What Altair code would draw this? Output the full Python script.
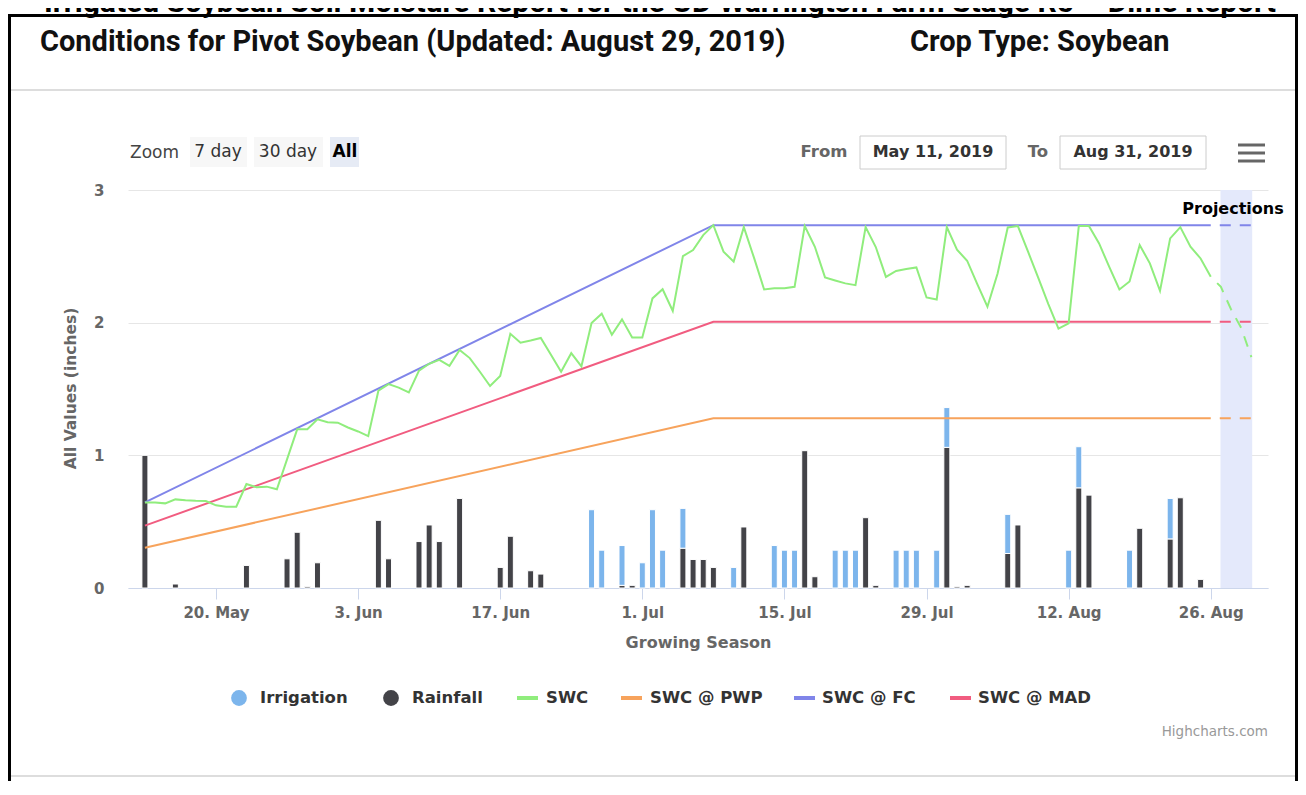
import altair as alt
import pandas as pd

# ------------------------------------------------------------------ data
swc_start = "2019-05-13"
swc_values = [0.645, 0.645, 0.638, 0.668, 0.662, 0.658, 0.656, 0.623, 0.613, 0.613,
              0.784, 0.759, 0.764, 0.744, 0.97, 1.196, 1.196, 1.271, 1.25, 1.246,
              1.21, 1.18, 1.145, 1.487, 1.537, 1.51, 1.475, 1.638, 1.69, 1.72,
              1.675, 1.794, 1.733, 1.63, 1.522, 1.598, 1.916, 1.849, 1.865, 1.885,
              1.758, 1.63, 1.77, 1.67, 1.997, 2.068, 1.909, 2.025, 1.888, 1.888,
              2.183, 2.252, 2.088, 2.502, 2.547, 2.66, 2.735, 2.535, 2.46, 2.72,
              2.49, 2.25, 2.26, 2.26, 2.27, 2.728, 2.572, 2.341, 2.318, 2.296,
              2.283, 2.72, 2.57, 2.345, 2.39, 2.405, 2.416, 2.19, 2.175, 2.72,
              2.55, 2.467, 2.29, 2.12, 2.37, 2.718, 2.728, 2.535, 2.34, 2.14,
              1.955, 1.995, 2.728, 2.728, 2.597, 2.42, 2.25, 2.31, 2.585, 2.447,
              2.24, 2.635, 2.72, 2.572, 2.484, 2.346]

proj_dates = ["2019-08-26", "2019-08-27", "2019-08-28", "2019-08-29", "2019-08-30"]
proj_swc = [2.346, 2.27, 2.10, 1.96, 1.74]

threshold_dates = ["2019-05-13", "2019-07-08", "2019-08-26"]
fc_values = [0.645, 2.735, 2.735]
mad_values = [0.47, 2.007, 2.007]
pwp_values = [0.304, 1.279, 1.279]
threshold_proj_dates = ["2019-08-26", "2019-08-30"]

rain_dates = ["2019-05-13", "2019-05-16", "2019-05-23", "2019-05-27", "2019-05-28",
              "2019-05-29", "2019-05-30", "2019-06-05", "2019-06-06", "2019-06-09",
              "2019-06-10", "2019-06-11", "2019-06-13", "2019-06-17", "2019-06-18",
              "2019-06-20", "2019-06-21", "2019-06-29", "2019-06-30", "2019-07-05",
              "2019-07-06", "2019-07-07", "2019-07-08", "2019-07-11", "2019-07-17",
              "2019-07-18", "2019-07-23", "2019-07-24", "2019-07-31", "2019-08-01",
              "2019-08-02", "2019-08-06", "2019-08-07", "2019-08-13", "2019-08-14",
              "2019-08-19", "2019-08-22", "2019-08-23", "2019-08-25"]
rain_values = [1.00, 0.03, 0.17, 0.22, 0.42,
               0.01, 0.19, 0.51, 0.22, 0.35,
               0.475, 0.35, 0.675, 0.155, 0.39,
               0.13, 0.105, 0.02, 0.02, 0.30,
               0.215, 0.215, 0.155, 0.46, 1.035,
               0.085, 0.53, 0.02, 1.06, 0.01,
               0.02, 0.26, 0.475, 0.755, 0.70,
               0.45, 0.37, 0.68, 0.065]

irr_dates = ["2019-06-26", "2019-06-27", "2019-06-29", "2019-07-01", "2019-07-02",
             "2019-07-03", "2019-07-05", "2019-07-10", "2019-07-14", "2019-07-15",
             "2019-07-16", "2019-07-20", "2019-07-21", "2019-07-22", "2019-07-26",
             "2019-07-27", "2019-07-28", "2019-07-30", "2019-07-31", "2019-08-06",
             "2019-08-12", "2019-08-13", "2019-08-18", "2019-08-22"]
irr_values = [0.59, 0.285, 0.30, 0.19, 0.59,
              0.285, 0.30, 0.155, 0.32, 0.285,
              0.285, 0.285, 0.285, 0.285, 0.285,
              0.285, 0.285, 0.285, 0.30, 0.295,
              0.285, 0.31, 0.285, 0.305]

band_start = "2019-08-26T23:00:00"
band_end = "2019-08-30T02:00:00"

series_names = ["Irrigation", "Rainfall", "SWC", "SWC @ PWP", "SWC @ FC", "SWC @ MAD"]
series_colors = ["#7cb5ec", "#434348", "#90ed7d", "#f7a35c", "#8085e9", "#f15c80"]


# ------------------------------------------------------------------ tables
def local(ds):
    # full date-time strings are read in local time, like the axis ticks and domain
    return [d + "T00:00:00" for d in ds]


swc_dates = pd.date_range(swc_start, periods=len(swc_values), freq="D").strftime("%Y-%m-%d").tolist()

bars = pd.concat([
    pd.DataFrame({"date": local(rain_dates), "value": rain_values, "kind": "Rainfall", "ord": 0}),
    pd.DataFrame({"date": local(irr_dates), "value": irr_values, "kind": "Irrigation", "ord": 1}),
], ignore_index=True)

lines = pd.concat([
    pd.DataFrame({"date": local(threshold_dates), "value": pwp_values, "kind": "SWC @ PWP"}),
    pd.DataFrame({"date": local(threshold_dates), "value": mad_values, "kind": "SWC @ MAD"}),
    pd.DataFrame({"date": local(threshold_dates), "value": fc_values, "kind": "SWC @ FC"}),
    pd.DataFrame({"date": local(swc_dates), "value": swc_values, "kind": "SWC"}),
], ignore_index=True)

proj = pd.concat([
    pd.DataFrame({"date": local(threshold_proj_dates), "value": [pwp_values[-1]] * 2, "kind": "SWC @ PWP"}),
    pd.DataFrame({"date": local(threshold_proj_dates), "value": [mad_values[-1]] * 2, "kind": "SWC @ MAD"}),
    pd.DataFrame({"date": local(threshold_proj_dates), "value": [fc_values[-1]] * 2, "kind": "SWC @ FC"}),
    pd.DataFrame({"date": local(proj_dates), "value": proj_swc, "kind": "SWC"}),
], ignore_index=True)

band = pd.DataFrame({"start": [band_start], "end": [band_end]})

# ------------------------------------------------------------------ layout
FONT = "DejaVu Sans"
HEAD = "Roboto"
X0, Y0 = 128, 190          # page position of plot origin
W, H = 1140, 398

x_scale = alt.Scale(domain=[alt.DateTime(year=2019, month=5, date=11, hours=8),
                            alt.DateTime(year=2019, month=8, date=31, hours=15, minutes=20)],
                    padding=0, nice=False)
tick_days = [(5, 20), (6, 3), (6, 17), (7, 1), (7, 15), (7, 29), (8, 12), (8, 26)]
x_axis = alt.Axis(values=[alt.DateTime(year=2019, month=m, date=d) for m, d in tick_days],
                  format="%-d. %b", title="Growing Season", grid=False,
                  domainColor="#ccd6eb", tickColor="#ccd6eb", tickSize=11, labelPadding=6,
                  labelFlush=False, labelFont=FONT, labelFontSize=15, labelFontWeight="bold",
                  labelColor="#666666", titleFont=FONT, titleFontSize=16, titleFontWeight="bold",
                  titleColor="#666666", titlePadding=14)
y_scale = alt.Scale(domain=[0, 3], nice=False)
y_axis = alt.Axis(values=[0, 1, 2, 3], format="d", grid=True, gridColor="#e6e6e6",
                  domain=False, ticks=False, labelPadding=24, labelFont=FONT,
                  labelFontSize=15, labelFontWeight="bold", labelColor="#666666",
                  title="All Values (inches)", titleFont=FONT, titleFontSize=15.5,
                  titleFontWeight="bold", titleColor="#666666", titleX=-58, titleY=198,
                  titleAngle=-90, titleAlign="center", titleBaseline="middle")

X = alt.X("date:T", scale=x_scale, axis=x_axis)
Y = alt.Y("value:Q", scale=y_scale, axis=y_axis)
C = alt.Color("kind:N", scale=alt.Scale(domain=series_names, range=series_colors), legend=None)

band_layer = alt.Chart(band).mark_rect(color="#e4e9fb").encode(
    x=alt.X("start:T", scale=x_scale, axis=x_axis), x2="end:T",
    y=alt.value(0), y2=alt.value(H))

bar_layer = alt.Chart(bars).mark_bar(size=6, stroke="white", strokeWidth=1).encode(
    x=X, y=Y, color=C, order=alt.Order("ord:Q"))

line_layer = alt.Chart(lines).mark_line(strokeWidth=2).encode(
    x=X, y=Y, color=C, detail="kind:N")

proj_layer = alt.Chart(proj).mark_line(strokeWidth=2, strokeDash=[11, 9], strokeDashOffset=11).encode(
    x=X, y=Y, color=C, detail="kind:N")

one = pd.DataFrame({"k": [0]})


def txt(s, x, y, size=16, weight="normal", color="#333333", align="left", font=FONT,
        baseline="middle"):
    return alt.Chart(one).mark_text(text=s, fontSize=size, fontWeight=weight, color=color,
                                    align=align, baseline=baseline, font=font).encode(
        x=alt.value(x - X0), y=alt.value(y - Y0))


def hline(x1, x2, y, color, w):
    return alt.Chart(one).mark_rule(color=color, strokeWidth=w).encode(
        x=alt.value(x1 - X0), x2=alt.value(x2 - X0), y=alt.value(y - Y0))


def vline(x, y1, y2, color, w):
    return alt.Chart(one).mark_rule(color=color, strokeWidth=w).encode(
        x=alt.value(x - X0), y=alt.value(y1 - Y0), y2=alt.value(y2 - Y0))


def box(x1, x2, y1, y2, fill, stroke=None):
    kw = dict(fill=fill)
    if stroke:
        kw.update(stroke=stroke, strokeWidth=1)
    return alt.Chart(one).mark_rect(**kw).encode(
        x=alt.value(x1 - X0), x2=alt.value(x2 - X0), y=alt.value(y1 - Y0), y2=alt.value(y2 - Y0))


def dot(x, y, color):
    return alt.Chart(one).mark_point(filled=True, shape="circle", size=250, color=color, opacity=1).encode(
        x=alt.value(x - X0), y=alt.value(y - Y0))


deco = [
    # page frame
    txt("Irrigated Soybean Soil Moisture Report for the UD Warrington Farm Stage R5 \u2013 Dime Report",
        44, 12, size=30, weight="bold", color="#000000", font=HEAD, baseline="alphabetic"),
    hline(8, 1298, 15.5, "#000000", 3),
    vline(9.5, 14, 800, "#000000", 3),
    vline(1296.5, 14, 800, "#000000", 3),
    hline(11, 1295, 90, "#dddddd", 2),
    hline(11, 1295, 776, "#dddddd", 2),
    txt("Conditions for Pivot Soybean (Updated: August 29, 2019)", 40, 42, size=29,
        weight="bold", color="#111111", font=HEAD),
    txt("Crop Type: Soybean", 910, 42, size=29, weight="bold", color="#111111", font=HEAD),
    # range selector
    txt("Zoom", 130, 153, size=17, color="#444444"),
    box(190, 247, 137, 167, "#f7f7f7"),
    box(254, 323, 137, 167, "#f7f7f7"),
    box(330, 359, 137, 167, "#e6ebf5"),
    txt("7 day", 218, 152, size=17, color="#333333", align="center"),
    txt("30 day", 288, 152, size=17, color="#333333", align="center"),
    txt("All", 345, 152, size=17, weight="bold", color="#000000", align="center"),
    txt("From", 824, 152, size=16.5, weight="bold", color="#666666", align="center"),
    box(860, 1006, 136, 169, "#ffffff", "#cccccc"),
    txt("May 11, 2019", 933, 152, size=16, weight="bold", color="#333333", align="center"),
    txt("To", 1038, 152, size=16.5, weight="bold", color="#666666", align="center"),
    box(1060, 1206, 136, 169, "#ffffff", "#cccccc"),
    txt("Aug 31, 2019", 1133, 152, size=16, weight="bold", color="#333333", align="center"),
    hline(1238, 1265, 145, "#666666", 3),
    hline(1238, 1265, 153, "#666666", 3),
    hline(1238, 1265, 161, "#666666", 3),
    # projections label
    txt("Projections", 1233, 209, size=16, weight="bold", color="#000000", align="center"),
    # legend
    dot(239, 698, series_colors[0]),
    txt("Irrigation", 260, 698, size=16.5, weight="bold"),
    dot(391, 698, series_colors[1]),
    txt("Rainfall", 412, 698, size=16.5, weight="bold"),
    hline(517, 538, 698, series_colors[2], 4),
    txt("SWC", 546, 698, size=16.5, weight="bold"),
    hline(621, 642, 698, series_colors[3], 4),
    txt("SWC @ PWP", 650, 698, size=16.5, weight="bold"),
    hline(794, 815, 698, series_colors[4], 4),
    txt("SWC @ FC", 822, 698, size=16.5, weight="bold"),
    hline(950, 971, 698, series_colors[5], 4),
    txt("SWC @ MAD", 978, 698, size=16.5, weight="bold"),
    txt("Highcharts.com", 1268, 732, size=13.5, color="#999999", align="right"),
]

chart = alt.layer(band_layer, bar_layer, line_layer, proj_layer, *deco).properties(
    width=W, height=H,
    autosize=alt.AutoSizeParams(type="none"),
    padding={"left": X0 - 8, "top": Y0 - 8, "right": 30, "bottom": 193},
    background="white",
).configure_view(stroke=None)

chart.save("out.html", embed_options={"renderer": "svg", "actions": False})
